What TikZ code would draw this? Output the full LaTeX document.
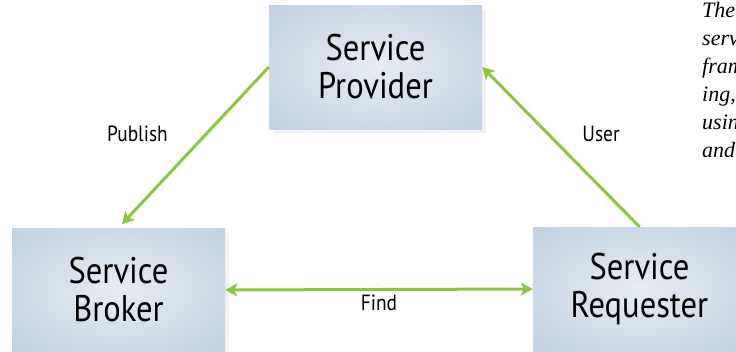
\documentclass[tikz,border=0pt]{standalone}
\usepackage{fontspec}
\setmainfont{Liberation Serif}
\newfontfamily\boxfont[FakeStretch=0.88]{PT Sans}
\usetikzlibrary{arrows.meta,shadows}
\definecolor{arrgreen}{HTML}{8CC63F}
\definecolor{boxin}{HTML}{E6EDF3}
\definecolor{boxmid}{HTML}{D3DEE9}
\definecolor{boxout}{HTML}{B3C5DA}
\pgfdeclareradialshading{boxshade}{\pgfpoint{0bp}{0bp}}{color(0bp)=(boxin); color(18bp)=(boxmid); color(50bp)=(boxout); color(75bp)=(boxout)}
\tikzset{
  svcbox/.style={shading=boxshade, minimum width=213pt, minimum height=124pt, inner sep=0pt,
    align=center, font=\boxfont\fontsize{37}{38}\selectfont,
    drop shadow={opacity=0.10, shadow xshift=4pt, shadow yshift=-4pt}},
  lbl/.style={font=\boxfont\fontsize{22}{24}\selectfont, inner sep=0pt},
  arr/.style={draw=arrgreen, line width=3pt, -{Stealth[length=12pt,width=13pt,inset=3pt]}},
  darr/.style={draw=arrgreen, line width=3pt, {Stealth[length=12pt,width=13pt,inset=3pt]}-{Stealth[length=12pt,width=13pt,inset=3pt]}},
  sidetext/.style={font=\itshape\fontsize{22}{24}\selectfont, anchor=base west, inner sep=0pt}
}
\begin{document}
\begin{tikzpicture}[x=1pt,y=-1pt]
\useasboundingbox (0,0) rectangle (736,351);
\clip (0,0) rectangle (736,351);
\fill[white] (0,0) rectangle (736,351);
\node[svcbox] (prov) at (375.5,67) {Service\\Provider};
\node[svcbox] (brok) at (118.5,290) {Service\\Broker};
\node[svcbox] (req) at (639.5,289) {Service\\Requester};
\draw[arr, shorten >=5pt] (prov.west) -- (brok.north);
\draw[arr] (req.north) -- (prov.east);
\draw[darr] (brok.east) -- (req.west);
\node[lbl] (pub) at (137.5,134) {Publish};
\node[lbl] (usr) at (601,134) {User};
\node[lbl] (fnd) at (379,303) {Find};
\node[sidetext] (t1) at (702,17) {The};
\node[sidetext] (t2) at (702,45) {serv};
\node[sidetext] (t3) at (702,73) {fram};
\node[sidetext] (t4) at (702,101) {ing,};
\node[sidetext] (t5) at (702,129) {usin};
\node[sidetext] (t6) at (702,157) {and};
\end{tikzpicture}
\end{document}
